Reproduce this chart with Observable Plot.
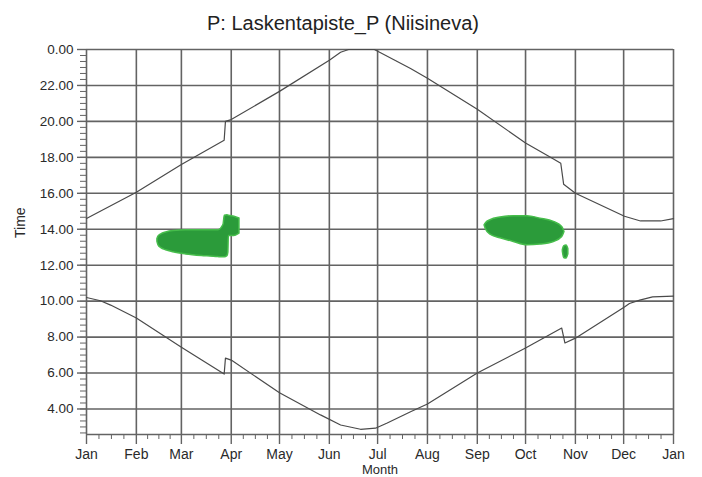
<!DOCTYPE html>
<html>
<head>
<meta charset="utf-8">
<script src="https://cdn.jsdelivr.net/npm/d3@7"></script>
<script src="https://cdn.jsdelivr.net/npm/@observablehq/plot@0.6"></script>
<style>
  html, body { margin: 0; padding: 0; background: #fff; }
  #title {
    width: 686px; height: 36px; box-sizing: border-box; padding-top: 12px;
    font-family: "Liberation Sans", Arial, sans-serif; font-size: 20px; line-height: 23px;
    text-align: center; color: #222;
  }
</style>
</head>
<body>
<div id="title">P: Laskentapiste_P (Niisineva)</div>
<div id="chart"></div>
<script>
// Month axis (day of year)
const monthStarts = [0, 31, 59, 90, 120, 151, 181, 212, 243, 273, 304, 334, 365];
const monthNames = ["Jan", "Feb", "Mar", "Apr", "May", "Jun", "Jul", "Aug", "Sep", "Oct", "Nov", "Dec", "Jan"];
// Time axis (hours; 24 shown as 0.00)
const hourTicks = [4, 6, 8, 10, 12, 14, 16, 18, 20, 22, 24];

// Upper boundary (sunset) — day of year, hour
const sunsetDay  = [0, 31, 59, 85.6, 86.4, 90, 120, 151, 158, 163, 179, 201.5, 212, 243, 273, 288.5, 294.9, 296.7, 304, 334.5, 344.5, 357, 365];
const sunsetTime = [14.6, 16.06, 17.6, 18.95, 20.0, 20.1, 21.67, 23.4, 23.85, 24.0, 24.0, 22.94, 22.4, 20.67, 18.8, 18.0, 17.67, 16.5, 16.0, 14.72, 14.46, 14.46, 14.59];

// Lower boundary (sunrise) — day of year, hour
const sunriseDay  = [0, 8.7, 15, 31, 59, 85.6, 86.4, 90, 120, 145.5, 158, 170.4, 179.7, 187, 201.5, 212, 243, 273, 295.5, 297.5, 304, 334.5, 337.6, 344, 352, 365];
const sunriseTime = [10.2, 10.02, 9.78, 9.06, 7.44, 5.94, 6.83, 6.72, 4.9, 3.67, 3.11, 2.87, 2.93, 3.22, 3.85, 4.28, 6.0, 7.39, 8.5, 7.67, 7.94, 9.68, 9.87, 10.06, 10.24, 10.28];

// Glare periods (green areas): day, lower hour, upper hour
const glare1Day  = [44.1, 44.8, 46.5, 49.5, 54, 62, 74, 82, 85.2, 86, 87.6, 88.2, 88.5, 92, 95.1];
const glare1Low  = [13.3, 13.1, 12.95, 12.83, 12.72, 12.6, 12.5, 12.45, 12.44, 12.44, 12.5, 12.7, 13.62, 13.62, 13.75];
const glare1High = [13.45, 13.6, 13.72, 13.82, 13.9, 13.94, 13.94, 13.95, 14.25, 14.75, 14.78, 14.76, 14.75, 14.7, 14.6];

const glare2Day  = [247.5, 248.5, 251.2, 257.4, 265.7, 274, 282.3, 290.6, 295.8, 297.2];
const glare2Low  = [14.22, 13.97, 13.7, 13.5, 13.29, 13.11, 13.15, 13.29, 13.57, 13.85];
const glare2High = [14.22, 14.35, 14.5, 14.65, 14.72, 14.72, 14.59, 14.41, 14.13, 13.85];

const glare3Day  = [296.2, 297, 298.5, 299.6];
const glare3Low  = [12.75, 12.4, 12.37, 12.6];
const glare3High = [12.85, 13.05, 13.1, 12.9];

const yMin = 2.58, yMax = 24;

const table = (xs, ys) => xs.map((d, i) => ({day: d, time: ys[i]}));
const bandTable = (xs, lo, hi) => xs.map((d, i) => ({day: d, low: lo[i], high: hi[i]}));

// minor ticks: quarter months and 20-minute steps
const minorX = [];
for (let i = 0; i < monthStarts.length - 1; i++) {
  const a = monthStarts[i], b = monthStarts[i + 1];
  for (let k = 1; k < 4; k++) minorX.push(a + (b - a) * k / 4);
}
const minorY = [];
for (let h = 24; h > yMin; h -= 1 / 3) minorY.push(h);

const gridColor = "#636363";
const lineColor = "#4a4a4a";
const greenFill = "#2b9b3a";
const greenEdge = "#46bd4b";

const bandOpts = {x: "day", y1: "low", y2: "high", curve: "monotone-x", fill: greenFill, stroke: greenEdge, strokeWidth: 1.5};

const chart = Plot.plot({
  width: 702,
  height: 441,
  marginTop: 13,
  marginBottom: 43,
  marginLeft: 86,
  marginRight: 29,
  style: {fontFamily: "'Liberation Sans', Arial, sans-serif", fontSize: "13.5px", color: "#2a2a2a", background: "#fff"},
  x: {domain: [0, 365]},
  y: {domain: [yMin, yMax]},
  marks: [
    Plot.gridX(monthStarts, {stroke: gridColor, strokeOpacity: 1, strokeWidth: 1.6}),
    Plot.gridY(hourTicks, {stroke: gridColor, strokeOpacity: 1, strokeWidth: 1.6}),
    Plot.ruleY([yMin], {stroke: gridColor, strokeWidth: 1.6}),
    Plot.axisX(minorX, {tickSize: 5, tickFormat: () => "", stroke: gridColor, label: null}),
    Plot.axisX(monthStarts, {tickSize: 10, tickPadding: 5, tickFormat: d => monthNames[monthStarts.indexOf(d)], stroke: gridColor, strokeWidth: 1.4, label: null, fontSize: 14}),
    Plot.axisY(minorY, {tickSize: 6, tickFormat: () => "", stroke: gridColor, label: null}),
    Plot.axisY(hourTicks, {tickSize: 9, tickPadding: 4, tickFormat: d => (d % 24).toFixed(2), stroke: gridColor, strokeWidth: 1.4, label: null, fontSize: 13.5}),
    Plot.areaY(bandTable(glare1Day, glare1Low, glare1High), bandOpts),
    Plot.areaY(bandTable(glare2Day, glare2Low, glare2High), bandOpts),
    Plot.areaY(bandTable(glare3Day, glare3Low, glare3High), bandOpts),
    Plot.line(table(sunsetDay, sunsetTime), {x: "day", y: "time", stroke: lineColor, strokeWidth: 1.2}),
    Plot.line(table(sunriseDay, sunriseTime), {x: "day", y: "time", stroke: lineColor, strokeWidth: 1.2}),
    Plot.text(["Month"], {frameAnchor: "bottom", dy: 39.5, fontSize: 13, fill: "#2a2a2a"}),
    Plot.text(["Time"], {frameAnchor: "left", dx: -66, dy: -4, rotate: -90, fontSize: 14, fill: "#2a2a2a"})
  ]
});
document.getElementById("chart").appendChild(chart);
</script>
</body>
</html>
